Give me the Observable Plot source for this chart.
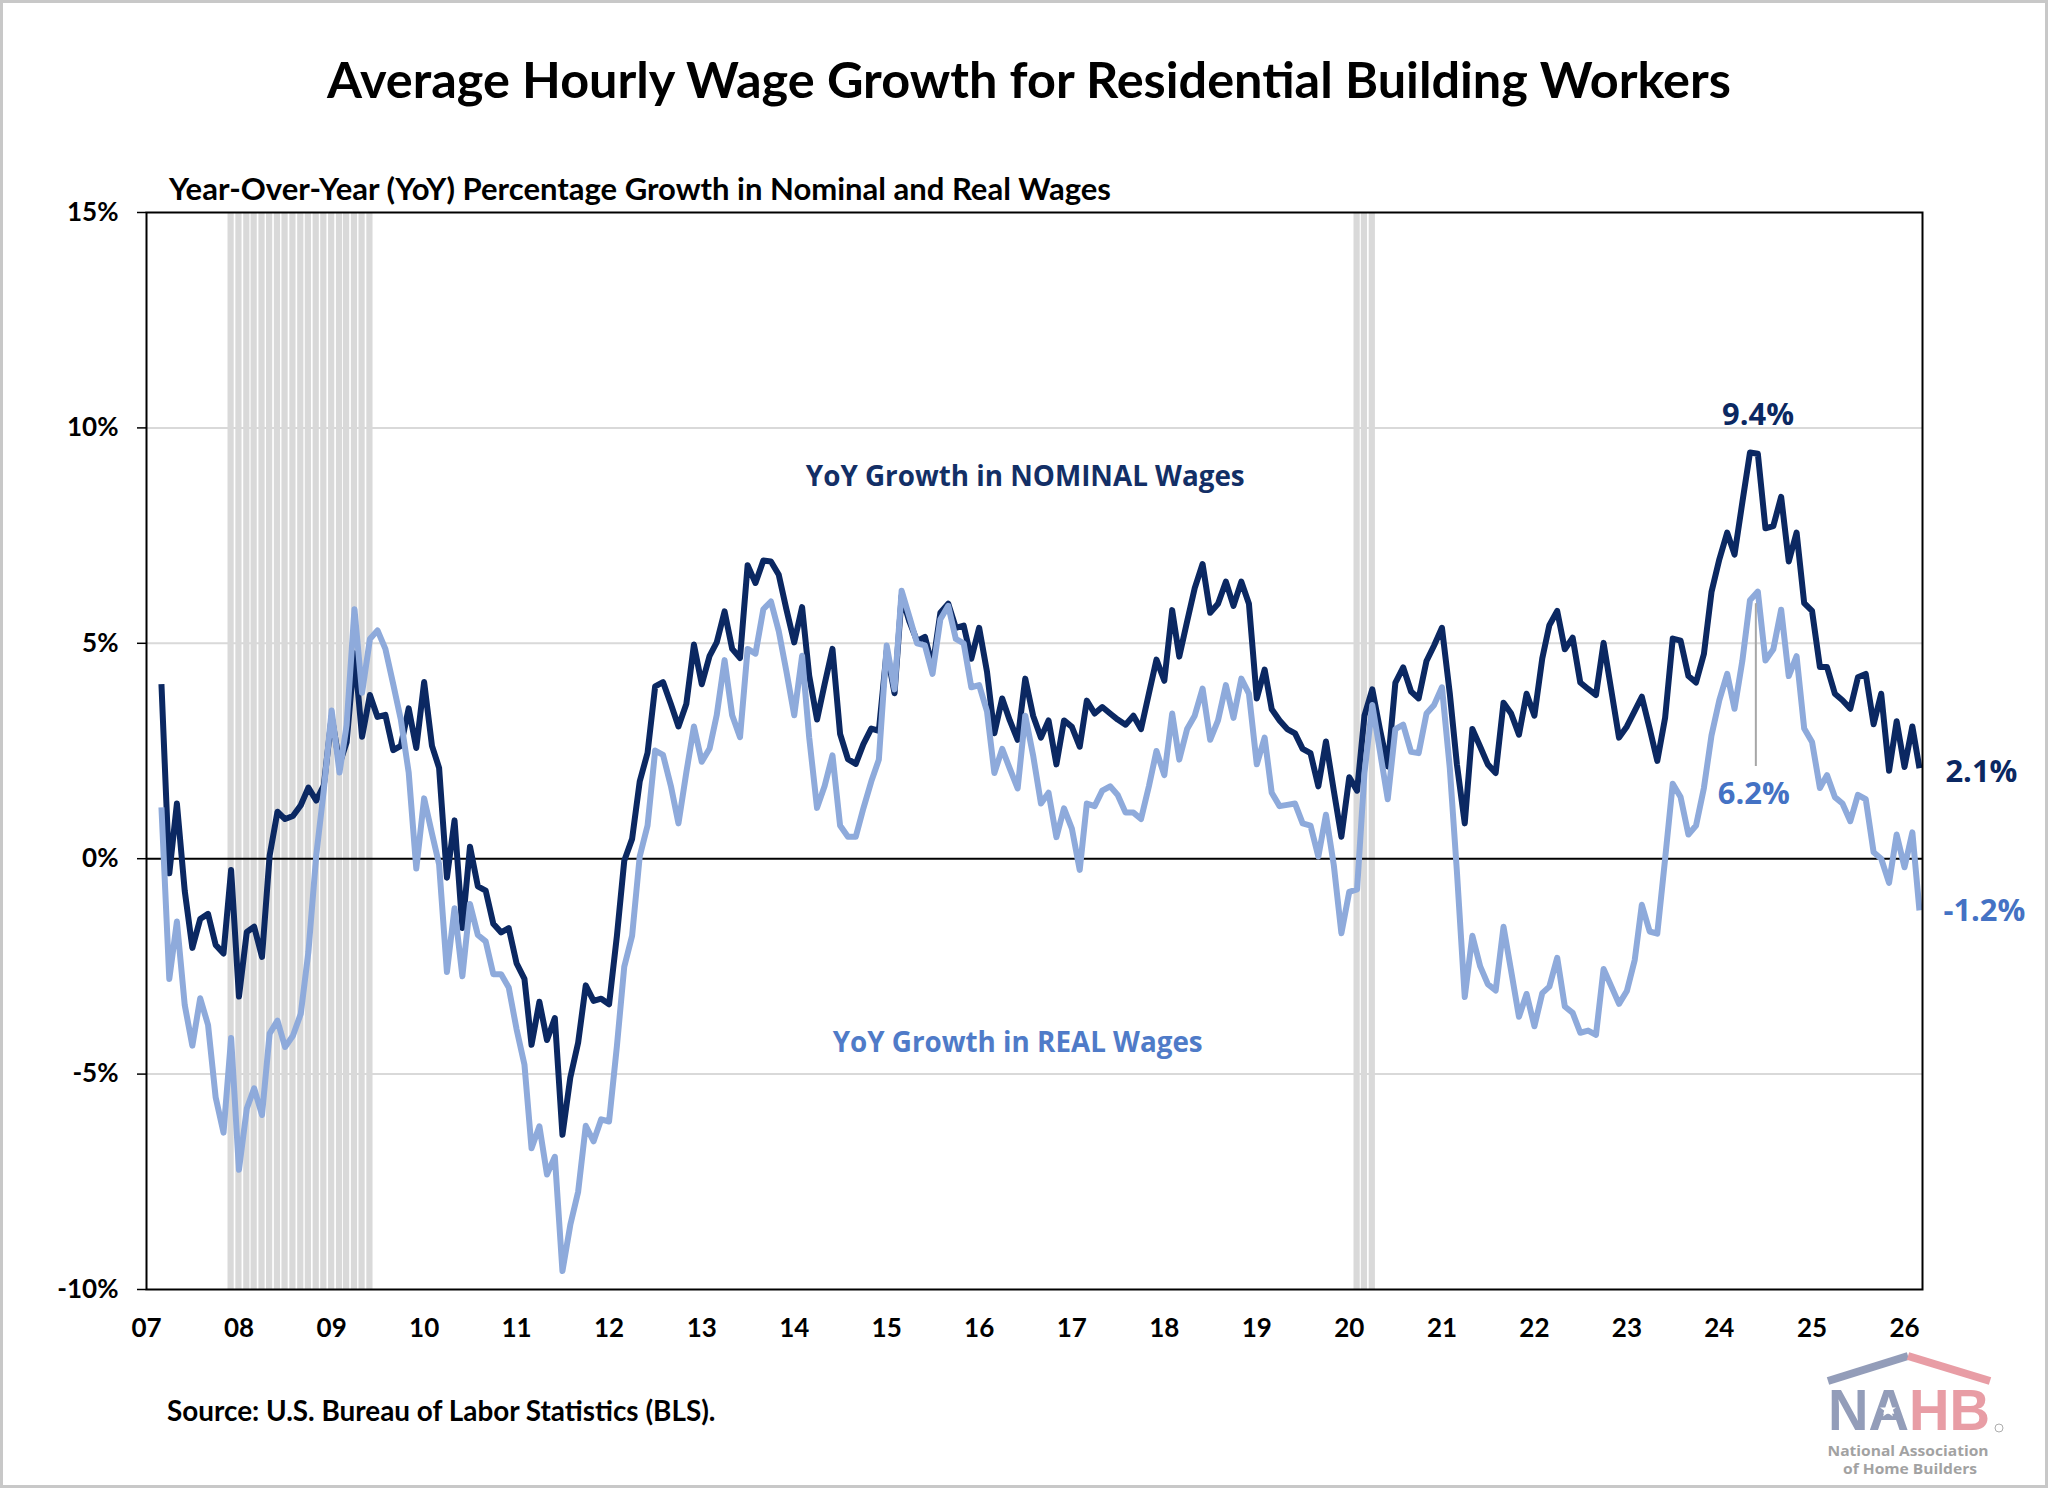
<!DOCTYPE html>
<html>
<head>
<meta charset="utf-8">
<script src="https://cdn.jsdelivr.net/npm/d3@7"></script>
<script src="https://cdn.jsdelivr.net/npm/@observablehq/plot@0.6"></script>
<style>
html, body { margin: 0; padding: 0; background: #fff; overflow: hidden; }
#wrap { position: relative; width: 2048px; height: 1488px; background: #fff; overflow: hidden; }
#chart { position: absolute; left: 0; top: 0; }
#deco { position: absolute; left: 0; top: 0; pointer-events: none; }
</style>
</head>
<body>
<div id="wrap">
  <div id="chart"></div>
  <svg id="deco" width="2048" height="1488" xmlns="http://www.w3.org/2000/svg">
    <rect x="1.5" y="1.5" width="2045" height="1485" fill="none" stroke="#c8c8c8" stroke-width="3"/>
    <text id="title" x="1029" y="98" text-anchor="middle" font-family="Lato, sans-serif" font-weight="700" fill="#000">Average Hourly Wage Growth for Residential Building Workers</text>
    <text id="subtitle" x="169" y="200" font-family="Lato, sans-serif" font-weight="700" fill="#000">Year-Over-Year (YoY) Percentage Growth in Nominal and Real Wages</text>
    <text id="source" x="167" y="1421" font-family="Lato, sans-serif" font-weight="700" fill="#000">Source: U.S. Bureau of Labor Statistics (BLS).</text>
    <g id="logo" opacity="0.8">
      <path d="M1828,1381 L1908,1356" stroke="#7985a8" stroke-width="8" fill="none"/>
      <path d="M1908,1356 L1990,1381" stroke="#e3858f" stroke-width="8" fill="none"/>
      <text x="1828" y="1430" font-family="Liberation Sans, sans-serif" font-weight="700" font-size="58" textLength="162" lengthAdjust="spacingAndGlyphs"><tspan fill="#7985a8">NA</tspan><tspan fill="#e3858f">HB</tspan></text>
      <path d="M1888,1402 L1890,1407.5 L1896,1407.5 L1891.2,1411 L1893,1416.5 L1888,1413 L1883,1416.5 L1884.8,1411 L1880,1407.5 L1886,1407.5 Z" fill="#fff"/>
      <circle cx="1999" cy="1428" r="4" fill="none" stroke="#999" stroke-width="1"/>
      <text x="1908" y="1456" text-anchor="middle" font-family="Open Sans, sans-serif" font-weight="700" font-size="14.5" fill="#8c8c8c" textLength="161" lengthAdjust="spacingAndGlyphs">National Association</text>
      <text x="1910" y="1474" text-anchor="middle" font-family="Open Sans, sans-serif" font-weight="700" font-size="14.5" fill="#8c8c8c" textLength="134" lengthAdjust="spacingAndGlyphs">of Home Builders</text>
    </g>
  </svg>
</div>
<script>
// ---------------- DATA ----------------
const startMonth = "2007-03"; // first monthly observation

// YoY growth in NOMINAL average hourly wages (%), Mar 2007 – Mar 2026
const nominal = [
  4.05, -0.34, 1.28, -0.75, -2.07, -1.4, -1.28, -2.0, -2.2, -0.26,
  -3.2, -1.7, -1.58, -2.28, 0.07, 1.09, 0.92, 0.99, 1.24, 1.65, 1.35, 1.7,
  3.3, 2.2, 2.7, 4.77, 2.83, 3.8, 3.29, 3.34, 2.52, 2.62, 3.49, 2.57,
  4.1, 2.62, 2.11, -0.44, 0.89, -1.61, 0.28, -0.64, -0.74, -1.51, -1.71, -1.61,
  -2.43, -2.79, -4.32, -3.32, -4.21, -3.7, -6.41, -5.08, -4.27, -2.94, -3.3, -3.25,
  -3.38, -1.79, -0.05, 0.46, 1.79, 2.46, 4.0, 4.1, 3.59, 3.07, 3.59, 4.97,
  4.05, 4.71, 5.02, 5.74, 4.87, 4.66, 6.81, 6.4, 6.92, 6.9, 6.59, 5.79,
  5.02, 5.84, 4.25, 3.23, 4.05, 4.87, 2.9, 2.31, 2.2, 2.66, 3.02, 2.97,
  4.82, 3.84, 6.1, 5.5, 5.05, 5.15, 4.45, 5.71, 5.92, 5.36, 5.41, 4.64,
  5.36, 4.34, 2.91, 3.72, 3.21, 2.76, 4.18, 3.32, 2.81, 3.21, 2.19, 3.21,
  3.06, 2.6, 3.67, 3.37, 3.52, 3.37, 3.23, 3.11, 3.32, 3.01, 3.83, 4.62,
  4.13, 5.77, 4.69, 5.51, 6.28, 6.84, 5.71, 5.92, 6.43, 5.87, 6.43, 5.92,
  3.72, 4.39, 3.47, 3.21, 3.01, 2.91, 2.55, 2.45, 1.68, 2.72, 1.58, 0.51,
  1.89, 1.58, 3.32, 3.93, 3.01, 2.14, 4.08, 4.44, 3.88, 3.72, 4.59, 4.95,
  5.36, 3.83, 2.19, 0.82, 3.01, 2.6, 2.19, 1.99, 3.62, 3.37, 2.88, 3.83,
  3.32, 4.65, 5.42, 5.75, 4.86, 5.13, 4.09, 3.94, 3.8, 5.01, 3.89, 2.81,
  3.07, 3.43, 3.76, 3.02, 2.27, 3.27, 5.11, 5.06, 4.24, 4.09, 4.75, 6.19,
  6.95, 7.57, 7.06, 8.28, 9.43, 9.4, 7.67, 7.72, 8.4, 6.9, 7.57, 5.93,
  5.75, 4.45, 4.45, 3.83, 3.68, 3.48, 4.21, 4.29, 3.12, 3.83, 2.04, 3.19,
  2.13, 3.07, 2.1
];

// YoY growth in REAL average hourly wages (%), Mar 2007 – Mar 2026
const real = [
  1.19, -2.79, -1.46, -3.4, -4.34, -3.24, -3.86, -5.54, -6.36, -4.16,
  -7.22, -5.8, -5.33, -5.95, -4.06, -3.76, -4.37, -4.11, -3.6, -2.17, 0.07, 1.6,
  3.44, 2.0, 3.1, 5.79, 3.85, 5.1, 5.3, 4.87, 4.05, 3.23, 2.0, -0.23,
  1.4, 0.58, -0.13, -2.63, -1.15, -2.73, -1.05, -1.77, -1.92, -2.68, -2.68, -2.99,
  -3.96, -4.78, -6.72, -6.21, -7.33, -6.92, -9.57, -8.5, -7.73, -6.2, -6.56, -6.05,
  -6.1, -4.35, -2.51, -1.79, 0.05, 0.77, 2.51, 2.41, 1.69, 0.82, 2.0, 3.07,
  2.25, 2.56, 3.33, 4.61, 3.33, 2.82, 4.87, 4.76, 5.79, 5.97, 5.28, 4.35,
  3.33, 4.71, 2.82, 1.18, 1.69, 2.4, 0.77, 0.51, 0.51, 1.17, 1.79, 2.3,
  4.95, 3.93, 6.22, 5.61, 5.0, 4.95, 4.29, 5.56, 5.87, 5.1, 5.0, 3.98,
  4.03, 3.42, 1.99, 2.55, 2.09, 1.63, 3.32, 2.4, 1.28, 1.53, 0.5, 1.17,
  0.7, -0.26, 1.28, 1.22, 1.58, 1.68, 1.48, 1.07, 1.07, 0.92, 1.68, 2.5,
  1.94, 3.37, 2.3, 3.01, 3.32, 3.95, 2.76, 3.21, 4.03, 3.27, 4.18, 3.83,
  2.19, 2.81, 1.53, 1.22, 1.25, 1.28, 0.82, 0.77, 0.05, 1.02, -0.15, -1.73,
  -0.77, -0.71, 1.99, 3.57, 2.5, 1.38, 3.01, 3.11, 2.48, 2.45, 3.37, 3.57,
  3.98, 2.1, -0.3, -3.21, -1.79, -2.5, -2.91, -3.06, -1.58, -2.6, -3.67, -3.14,
  -3.89, -3.12, -2.97, -2.3, -3.43, -3.58, -4.04, -3.99, -4.09, -2.56, -2.97, -3.37,
  -3.07, -2.35, -1.07, -1.69, -1.74, 0.0, 1.74, 1.43, 0.56, 0.77, 1.64, 2.86,
  3.68, 4.29, 3.48, 4.6, 6.0, 6.2, 4.6, 4.86, 5.78, 4.24, 4.7, 3.02,
  2.71, 1.64, 1.94, 1.43, 1.28, 0.87, 1.48, 1.38, 0.15, 0.0, -0.56, 0.56,
  -0.2, 0.61, -1.2
];

// Recession periods (monthly shaded columns)
const recessions = [["2007-12", "2009-06"], ["2020-02", "2020-04"]];

// Axis ticks
const yTicks = [-10, -5, 0, 5, 10, 15];
const xTickYears = [2007, 2008, 2009, 2010, 2011, 2012, 2013, 2014, 2015, 2016, 2017, 2018, 2019, 2020, 2021, 2022, 2023, 2024, 2025, 2026];
const xTickLabels = ["07", "08", "09", "10", "11", "12", "13", "14", "15", "16", "17", "18", "19", "20", "21", "22", "23", "24", "25", "26"];

// Callout months (the 2024 peaks)
const peakMonths = { nominal: "2024-05", real: "2024-06" };

// Series annotation labels
const seriesLabels = [
  { text: "YoY Growth in NOMINAL Wages", date: "2016-07", value: 8.85, series: "nominal" },
  { text: "YoY Growth in REAL Wages", date: "2016-06", value: -4.27, series: "real" }
];

// ---------------- BUILD ----------------
const parseMonth = d3.utcParse("%Y-%m");
const start = parseMonth(startMonth);
const rows = nominal.map((v, i) => ({ date: d3.utcMonth.offset(start, i), nominal: v, real: real[i] }));
const recMonths = recessions.flatMap(([a, b]) => d3.utcMonth.range(parseMonth(a), d3.utcMonth.offset(parseMonth(b), 1)));
const xTicks = xTickYears.map(y => new Date(Date.UTC(y, 0, 1)));
const last = rows[rows.length - 1];
const rowAt = m => rows.find(d => +d.date === +parseMonth(m));
const nomPeak = rowAt(peakMonths.nominal);
const realPeak = rowAt(peakMonths.real);
const pct = v => (v < 0 ? "-" : "") + Math.abs(v).toFixed(1) + "%";
const annot = seriesLabels.map(d => ({ ...d, date: parseMonth(d.date) }));

const navy = "#0b2862";
const lightBlue = "#8eaadb";
const midBlue = "#4472c4";

// font fitting helper (match reference text widths)
const ctx = document.createElement("canvas").getContext("2d");
function fit(text, family, weight, target) {
  ctx.font = `${weight} 100px ${family}`;
  const w = ctx.measureText(text).width;
  return w > 0 ? 100 * target / w : 24;
}
const titleFs = fit("Average Hourly Wage Growth for Residential Building Workers", "Lato", 700, 1407);
const subFs = fit("Year-Over-Year (YoY) Percentage Growth in Nominal and Real Wages", "Lato", 700, 943);
const srcFs = fit("Source: U.S. Bureau of Labor Statistics (BLS).", "Lato", 700, 550);
const seriesFs = fit("YoY Growth in NOMINAL Wages", '"Open Sans"', 700, 439);
const valFs = fit("9.4%", '"Open Sans"', 700, 72);
const tickFs = 26;

document.getElementById("title").setAttribute("font-size", titleFs);
document.getElementById("subtitle").setAttribute("font-size", subFs);
document.getElementById("source").setAttribute("font-size", srcFs);

const xEnd = d3.utcDay.offset(last.date, 12);

const chart = Plot.plot({
  width: 2048,
  height: 1488,
  marginLeft: 146,
  marginRight: 126,
  marginTop: 212,
  marginBottom: 199,
  style: { background: "transparent", color: "#000", fontFamily: "Lato, sans-serif", fontWeight: 700, fontSize: tickFs + "px", overflow: "visible" },
  x: { type: "utc", domain: [parseMonth("2007-01"), xEnd], label: null },
  y: { domain: [-10, 15], label: null },
  marks: [
    Plot.ruleY([10, 5, -5], { stroke: "#d9d9d9", strokeWidth: 2 }),
    Plot.rect(recMonths, {
      x1: d => d3.utcDay.offset(d, -15),
      x2: d => d3.utcDay.offset(d, 15),
      y1: () => -10,
      y2: () => 15,
      fill: "#d9d9d9",
      insetLeft: 0.7,
      insetRight: 0.7
    }),
    Plot.ruleY([0], { stroke: "#000", strokeWidth: 2 }),
    Plot.line(rows, { x: "date", y: "nominal", stroke: navy, strokeWidth: 6, strokeLinejoin: "round", strokeLinecap: "butt" }),
    Plot.line(rows, { x: "date", y: "real", stroke: lightBlue, strokeWidth: 6, strokeLinejoin: "round", strokeLinecap: "butt" }),
    Plot.frame({ stroke: "#000", strokeWidth: 2 }),
    Plot.axisY(yTicks, { tickFormat: d => d + "%", tickSize: 9, tickPadding: 19, fontSize: tickFs, fontWeight: 700, stroke: "#000", strokeWidth: 1.5 }),
    Plot.axisX(xTicks, { tickFormat: d => xTickLabels[xTickYears.indexOf(d.getUTCFullYear())], tickSize: 0, tickPadding: 29, fontSize: tickFs, fontWeight: 700 }),
    // series labels
    Plot.text(annot, {
      x: "date", y: "value", text: "text",
      fill: d => d.series === "nominal" ? "#132f66" : "#4f7bc8",
      fontFamily: '"Open Sans", sans-serif', fontWeight: 700, fontSize: seriesFs
    }),
    // peak labels
    Plot.text([nomPeak], { x: "date", y: "nominal", text: d => pct(d.nominal), dx: 8, dy: -37, fill: navy, fontFamily: '"Open Sans", sans-serif', fontWeight: 700, fontSize: valFs }),
    Plot.ruleX([realPeak], { x: "date", y1: d => d.real - 0.28, y2: d => d.real - 4.06, dx: -2, stroke: "#a6a6a6", strokeWidth: 2 }),
    Plot.text([realPeak], { x: "date", y: "real", text: d => pct(d.real), dx: -4, dy: 203, fill: midBlue, fontFamily: '"Open Sans", sans-serif', fontWeight: 700, fontSize: valFs }),
    // end labels
    Plot.text([last], { x: "date", y: "nominal", text: d => pct(d.nominal), dx: 26, dy: 4, textAnchor: "start", fill: navy, fontFamily: '"Open Sans", sans-serif', fontWeight: 700, fontSize: valFs }),
    Plot.text([last], { x: "date", y: "real", text: d => pct(d.real), dx: 24, dy: 1, textAnchor: "start", fill: midBlue, fontFamily: '"Open Sans", sans-serif', fontWeight: 700, fontSize: valFs })
  ]
});
document.getElementById("chart").appendChild(chart);
</script>
</body>
</html>
